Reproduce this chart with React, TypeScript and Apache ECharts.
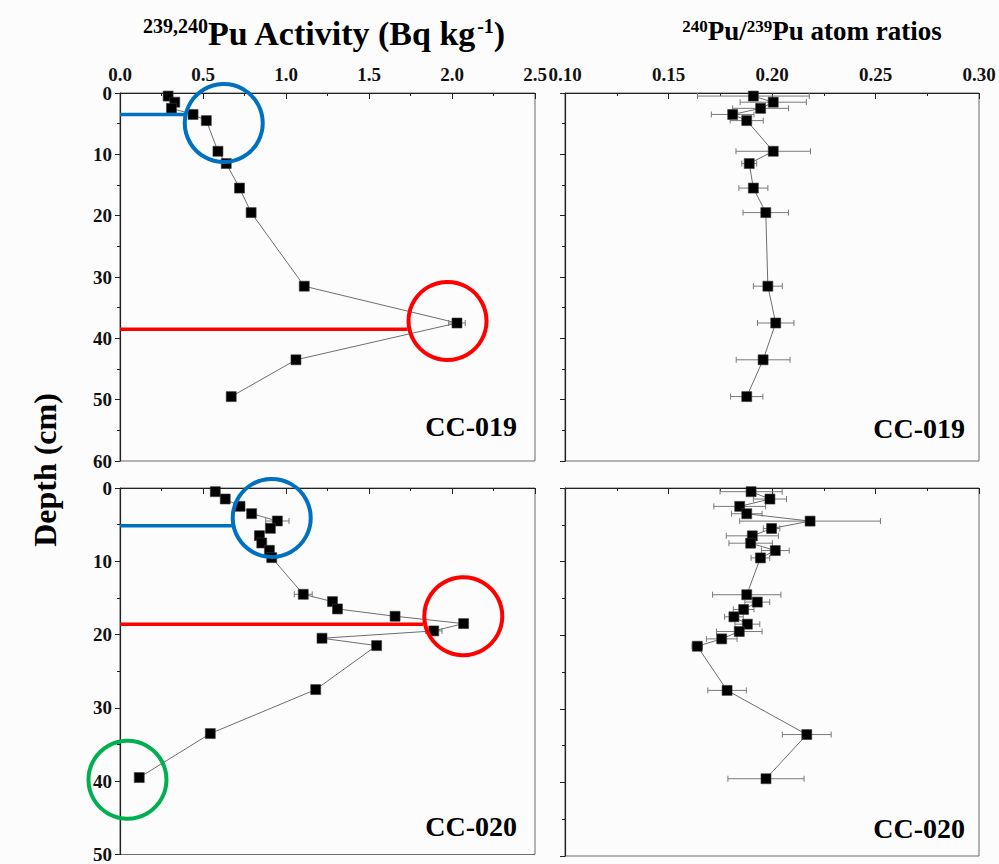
import React, { useEffect, useRef } from 'react';
import * as echarts from 'echarts';

const SERIF = "'Liberation Serif', 'Times New Roman', serif";
const BLUE = '#0070C0';
const RED = '#FF0000';
const GREEN = '#00B050';

// ---- Core CC-019 ----
const cc019Depth = [0.5, 1.5, 2.5, 3.5, 4.5, 9.5, 11.5, 15.5, 19.5, 31.5, 37.5, 43.5, 49.5];
const cc019Activity = [0.29, 0.33, 0.31, 0.44, 0.52, 0.59, 0.64, 0.72, 0.79, 1.11, 2.03, 1.06, 0.67];
const cc019ActivityErr = [0, 0, 0, 0, 0, 0, 0, 0, 0, 0, 0.05, 0, 0];
const cc019Ratio = [0.191, 0.2006, 0.1945, 0.181, 0.1878, 0.2006, 0.189, 0.191, 0.197, 0.198, 0.2018, 0.1957, 0.1878];
const cc019RatioErr = [0.027, 0.016, 0.0135, 0.0103, 0.008, 0.018, 0.0036, 0.007, 0.011, 0.007, 0.0088, 0.013, 0.0078];

// ---- Core CC-020 ----
const cc020Depth = [0.5, 1.5, 2.5, 3.5, 4.5, 5.5, 6.5, 7.5, 8.5, 9.5, 14.5, 15.5, 16.5, 17.5, 18.5, 19.5, 20.5, 21.5, 27.5, 33.5, 39.5];
const cc020Activity = [0.574, 0.634, 0.723, 0.793, 0.948, 0.906, 0.84, 0.854, 0.9, 0.914, 1.104, 1.28, 1.31, 1.657, 2.07, 1.89, 1.217, 1.546, 1.179, 0.544, 0.116];
const cc020ActivityErr = [0, 0, 0, 0, 0.07, 0, 0, 0, 0, 0, 0.054, 0, 0, 0, 0, 0.05, 0, 0, 0, 0, 0];
const cc020Ratio = [0.1899, 0.199, 0.1844, 0.1878, 0.2184, 0.1998, 0.1905, 0.1897, 0.2016, 0.1944, 0.1878, 0.1929, 0.1863, 0.1816, 0.1881, 0.1842, 0.1757, 0.1639, 0.1783, 0.2168, 0.1971];
const cc020RatioErr = [0.015, 0.008, 0.0125, 0.0074, 0.034, 0.004, 0.0126, 0.0105, 0.0067, 0.0045, 0.0165, 0.006, 0.005, 0.0045, 0.006, 0.011, 0.0074, 0.0025, 0.0093, 0.0118, 0.0184];

// Highlight rings (activity, depth) and guide lines (depth, activity where the line stops)
const cc019Rings = [
  { x: 0.625, depth: 4.9, color: BLUE },
  { x: 1.973, depth: 37.16, color: RED },
];
const cc019Guides = [
  { depth: 3.5, xEnd: 0.386, color: BLUE },
  { depth: 38.5, xEnd: 1.733, color: RED },
];
const cc020Rings = [
  { x: 0.914, depth: 4.08, color: BLUE },
  { x: 2.068, depth: 17.49, color: RED },
  { x: 0.045, depth: 39.8, color: GREEN },
];
const cc020Guides = [
  { depth: 5.16, xEnd: 0.674, color: BLUE },
  { depth: 18.6, xEnd: 1.828, color: RED },
];

const labelFont = {
  fontFamily: SERIF,
  fontWeight: 'bold' as const,
  fontSize: 19,
  color: '#111',
};

function xAxisFor(gridIndex: number, min: number, max: number, interval: number, digits: number, showLabels: boolean) {
  return {
    type: 'value',
    gridIndex,
    position: 'top',
    min,
    max,
    interval,
    axisLine: { show: true, onZero: false, lineStyle: { color: '#222', width: 1.2 } },
    axisTick: { show: true, inside: true, length: 6, lineStyle: { color: '#222', width: 1 } },
    minorTick: { show: true, splitNumber: 2, length: 3, lineStyle: { color: '#222', width: 1 } },
    splitLine: { show: false },
    minorSplitLine: { show: false },
    axisLabel: {
      show: showLabels,
      margin: 9,
      ...labelFont,
      formatter: (v: number) => v.toFixed(digits),
    },
  };
}

function yAxisFor(gridIndex: number, max: number, showLabels: boolean) {
  return {
    type: 'value',
    gridIndex,
    inverse: true,
    min: 0,
    max,
    interval: 10,
    axisLine: { show: true, onZero: false, lineStyle: { color: '#222', width: 1.2 } },
    axisTick: { show: true, inside: false, length: 5, lineStyle: { color: '#222', width: 1 } },
    minorTick: { show: true, splitNumber: 2, length: 3, lineStyle: { color: '#222', width: 1 } },
    splitLine: { show: false },
    minorSplitLine: { show: false },
    axisLabel: { show: showLabels, margin: 8, ...labelFont },
  };
}

function profileSeries(idx: number, xs: number[], depths: number[]) {
  return {
    type: 'line',
    xAxisIndex: idx,
    yAxisIndex: idx,
    data: xs.map((x, i) => [x, depths[i]]),
    symbol: 'rect',
    symbolSize: 10,
    lineStyle: { color: '#6e6e6e', width: 1 },
    itemStyle: { color: '#000', borderColor: '#3a3a3a', borderWidth: 0.6 },
    silent: true,
    z: 4,
  };
}

function errorSeries(idx: number, xs: number[], depths: number[], errs: number[]) {
  return {
    type: 'custom',
    xAxisIndex: idx,
    yAxisIndex: idx,
    data: xs.map((x, i) => [x, depths[i], errs[i]]),
    encode: { x: 0, y: 1 },
    silent: true,
    z: 3,
    renderItem: (_params: any, api: any) => {
      const x = api.value(0);
      const d = api.value(1);
      const e = api.value(2);
      if (!e) return null;
      const a = api.coord([x - e, d]);
      const b = api.coord([x + e, d]);
      const h = 3;
      const style = { stroke: '#7a7a7a', lineWidth: 1 };
      return {
        type: 'group',
        children: [
          { type: 'line', shape: { x1: a[0], y1: a[1], x2: b[0], y2: b[1] }, style },
          { type: 'line', shape: { x1: a[0], y1: a[1] - h, x2: a[0], y2: a[1] + h }, style },
          { type: 'line', shape: { x1: b[0], y1: b[1] - h, x2: b[0], y2: b[1] + h }, style },
        ],
      };
    },
  };
}

function ringSeries(idx: number, rings: { x: number; depth: number; color: string }[]) {
  return {
    type: 'scatter',
    xAxisIndex: idx,
    yAxisIndex: idx,
    clip: false,
    silent: true,
    symbol: 'circle',
    symbolSize: 78,
    data: rings.map((r) => ({
      value: [r.x, r.depth],
      itemStyle: { color: 'rgba(0,0,0,0)', borderColor: r.color, borderWidth: 4, opacity: 1 },
    })),
    itemStyle: { opacity: 1 },
    z: 6,
  };
}

function guideSeries(idx: number, g: { depth: number; xEnd: number; color: string }) {
  return {
    type: 'line',
    xAxisIndex: idx,
    yAxisIndex: idx,
    silent: true,
    symbol: 'none',
    data: [
      [0, g.depth],
      [g.xEnd, g.depth],
    ],
    lineStyle: { color: g.color, width: 3.5, opacity: 1 },
    z: 5,
  };
}

function coreLabel(text: string, x: number, y: number) {
  return {
    type: 'text',
    style: {
      text,
      x,
      y,
      textAlign: 'right',
      textVerticalAlign: 'middle',
      fontFamily: SERIF,
      fontWeight: 'bold',
      fontSize: 28,
      fill: '#000',
    },
  };
}

export default function App() {
  const ref = useRef<HTMLDivElement>(null);

  useEffect(() => {
    if (!ref.current) return;
    const chart = echarts.init(ref.current, undefined, { renderer: 'svg' });

    const gridBase = { show: true, borderColor: '#6b6b6b', borderWidth: 1, backgroundColor: 'transparent' };

    const option: any = {
      animation: false,
      backgroundColor: '#fcfcfc',
      grid: [
        { ...gridBase, left: 120, top: 93, width: 415, height: 368 },
        { ...gridBase, left: 565, top: 93, width: 414, height: 368 },
        { ...gridBase, left: 120, top: 488, width: 415, height: 368 },
        { ...gridBase, left: 565, top: 488, width: 414, height: 368 },
      ],
      xAxis: [
        xAxisFor(0, 0, 2.5, 0.5, 1, true),
        xAxisFor(1, 0.1, 0.3, 0.05, 2, true),
        xAxisFor(2, 0, 2.5, 0.5, 1, false),
        xAxisFor(3, 0.1, 0.3, 0.05, 2, false),
      ],
      yAxis: [yAxisFor(0, 60, true), yAxisFor(1, 60, false), yAxisFor(2, 50, true), yAxisFor(3, 50, false)],
      series: [
        errorSeries(0, cc019Activity, cc019Depth, cc019ActivityErr),
        profileSeries(0, cc019Activity, cc019Depth),
        ...cc019Guides.map((g) => guideSeries(0, g)),
        ringSeries(0, cc019Rings),

        errorSeries(1, cc019Ratio, cc019Depth, cc019RatioErr),
        profileSeries(1, cc019Ratio, cc019Depth),

        errorSeries(2, cc020Activity, cc020Depth, cc020ActivityErr),
        profileSeries(2, cc020Activity, cc020Depth),
        ...cc020Guides.map((g) => guideSeries(2, g)),
        ringSeries(2, cc020Rings),

        errorSeries(3, cc020Ratio, cc020Depth, cc020RatioErr),
        profileSeries(3, cc020Ratio, cc020Depth),
      ],
      graphic: [
        {
          type: 'text',
          style: {
            text: '{sup|239,240}Pu Activity (Bq kg{sup|-1})',
            x: 143,
            y: 33,
            textAlign: 'left',
            textVerticalAlign: 'middle',
            fontFamily: SERIF,
            fontWeight: 'bold',
            fontSize: 34,
            fill: '#000',
            rich: {
              sup: { fontFamily: SERIF, fontWeight: 'bold', fontSize: 20, verticalAlign: 'top', fill: '#000' },
            },
          },
        },
        {
          type: 'text',
          style: {
            text: '{sup|240}Pu/{sup|239}Pu atom ratios',
            x: 812,
            y: 31,
            textAlign: 'center',
            textVerticalAlign: 'middle',
            fontFamily: SERIF,
            fontWeight: 'bold',
            fontSize: 27,
            fill: '#000',
            rich: {
              sup: { fontFamily: SERIF, fontWeight: 'bold', fontSize: 17, verticalAlign: 'top', fill: '#000' },
            },
          },
        },
        {
          type: 'text',
          x: 45,
          y: 470,
          rotation: Math.PI / 2,
          style: {
            text: 'Depth (cm)',
            x: 0,
            y: 0,
            textAlign: 'center',
            textVerticalAlign: 'middle',
            fontFamily: SERIF,
            fontWeight: 'bold',
            fontSize: 32,
            fill: '#000',
          },
        },
        coreLabel('CC-019', 517, 426),
        coreLabel('CC-019', 965, 428),
        coreLabel('CC-020', 517, 826),
        coreLabel('CC-020', 965, 828),
      ],
    };

    chart.setOption(option);
    return () => chart.dispose();
  }, []);

  return (
    <div
      ref={ref}
      style={{ position: 'absolute', left: 0, top: 0, width: 999, height: 864 }}
    />
  );
}
